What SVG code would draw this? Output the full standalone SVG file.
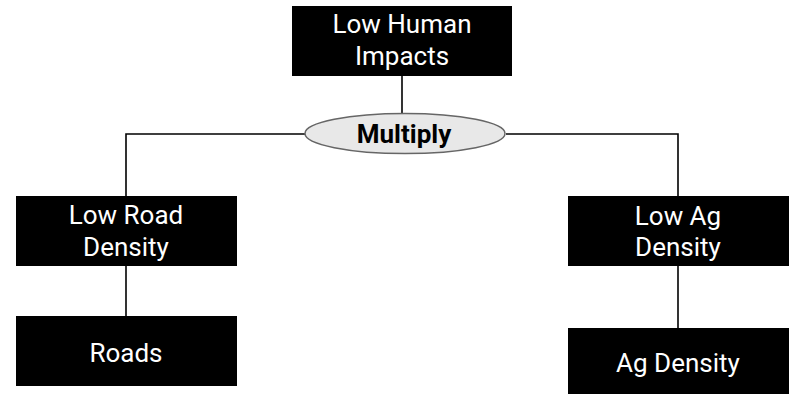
<svg xmlns="http://www.w3.org/2000/svg" width="792" height="394" viewBox="0 0 792 394">
<style>
.box{fill:#000}
.t{font-family:Roboto,"Liberation Sans",sans-serif;font-size:26px;fill:#fff;text-anchor:middle}
.op{font-family:Roboto,"Liberation Sans",sans-serif;font-size:26px;font-weight:bold;fill:#000;text-anchor:middle}
.ln{stroke:#000;stroke-width:1.6;fill:none}
</style>
<rect width="792" height="394" fill="#fff"/>
<g id="connectors">
<path class="ln" d="M402,76 V114"/>
<path class="ln" d="M305,134 H126 V196"/>
<path class="ln" d="M506,134 H678 V196"/>
<path class="ln" d="M126,266 V316"/>
<path class="ln" d="M678,266 V328"/>
</g>
<g id="low-human-impacts">
<rect class="box" x="292" y="6" width="220" height="70"/>
<text class="t" x="402" y="33">Low Human</text>
<text class="t" x="402" y="65">Impacts</text>
</g>
<g id="multiply">
<ellipse cx="405" cy="133.5" rx="100" ry="20" fill="#e8e8e8" stroke="#666" stroke-width="1.5"/>
<text class="op" x="404" y="143">Multiply</text>
</g>
<g id="low-road-density">
<rect class="box" x="16" y="196" width="221" height="70"/>
<text class="t" x="126" y="224">Low Road</text>
<text class="t" x="126" y="256">Density</text>
</g>
<g id="roads">
<rect class="box" x="16" y="316" width="221" height="70"/>
<text class="t" x="126" y="362">Roads</text>
</g>
<g id="low-ag-density">
<rect class="box" x="568" y="196" width="221" height="70"/>
<text class="t" x="678" y="225">Low Ag</text>
<text class="t" x="678" y="256">Density</text>
</g>
<g id="ag-density">
<rect class="box" x="568" y="328" width="221" height="70"/>
<text class="t" x="678" y="372">Ag Density</text>
</g>
</svg>
